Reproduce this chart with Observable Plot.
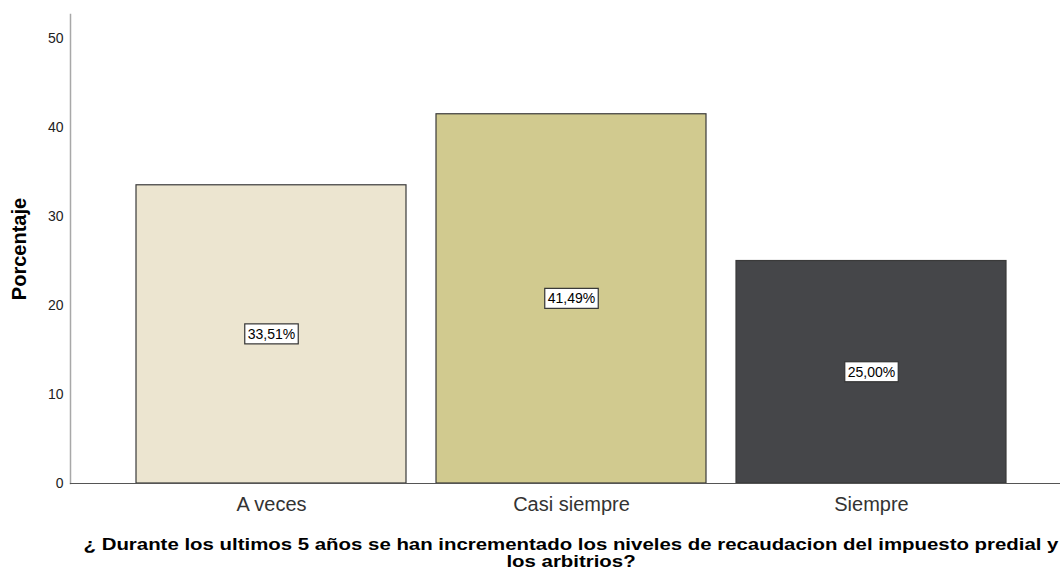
<!DOCTYPE html>
<html>
<head>
<meta charset="utf-8">
<script src="https://cdn.jsdelivr.net/npm/d3@7"></script>
<script src="https://cdn.jsdelivr.net/npm/@observablehq/plot@0.6"></script>
<style>
  html, body { margin: 0; padding: 0; background: #fff; overflow: hidden; width: 1060px; height: 573px; }
  #wrap { width: 1072px; }
  #title { width: 1002px; margin-left: 70px; text-align: center; font-family: "Liberation Sans", Arial, sans-serif;
           font-weight: bold; font-size: 17px; line-height: 17px; padding-top: 16px; white-space: nowrap; color: #000;
           transform: scaleX(1.2); transform-origin: 50% 0; }
</style>
</head>
<body>
<div id="wrap">
  <div id="chart"></div>
  <div id="title">¿ Durante los ultimos 5 años se han incrementado los niveles de recaudacion del impuesto predial y<br>los arbitrios?</div>
</div>
<script>
const categories = ["A veces", "Casi siempre", "Siempre"];
const percentages = [33.51, 41.49, 25.00];
const valueLabels = ["33,51%", "41,49%", "25,00%"];
const barColors = ["#ece5d0", "#d1ca8f", "#454649"];
const yTicks = [0, 10, 20, 30, 40, 50];

const data = categories.map((c, i) => ({category: c, value: percentages[i], label: valueLabels[i]}));

const chart = Plot.plot({
  width: 1072,
  height: 520,
  marginLeft: 70,
  marginRight: 0,
  marginTop: 14,
  marginBottom: 37,
  style: {fontFamily: "Liberation Sans, Arial, sans-serif", background: "#fff"},
  x: {domain: categories, paddingInner: 0.1, paddingOuter: 0.22, label: null},
  y: {domain: [0, 52.7], label: null},
  color: {domain: categories, range: barColors},
  marks: [
    Plot.barY(data, {x: "category", y: "value", fill: "category", stroke: "#3a3a3a", strokeWidth: 1.2}),
    Plot.frame({anchor: "left", stroke: "#a8a8a8", strokeWidth: 1.5}),
    Plot.frame({anchor: "bottom", stroke: "#555", strokeWidth: 1.2}),
    Plot.axisY({ticks: yTicks, tickSize: 0, tickPadding: 7, fontSize: 14, fill: "#222", label: null}),
    Plot.axisX({tickSize: 0, tickPadding: 13, fontSize: 20, fill: "#333", label: null}),
    Plot.text(["Porcentaje"], {frameAnchor: "left", textAnchor: "middle", rotate: -90, dx: -51, fontWeight: "bold", fontSize: 20, fill: "#000"}),
    Plot.text(data, {x: "category", y: d => d.value / 2, text: "label", fontSize: 14, fill: "#000", className: "vlabel"})
  ]
});
document.getElementById("chart").appendChild(chart);

// white boxes behind value labels
d3.select(chart).selectAll("g.vlabel text").each(function() {
  const b = this.getBBox();
  const rect = document.createElementNS("http://www.w3.org/2000/svg", "rect");
  rect.setAttribute("x", b.x - 3);
  rect.setAttribute("y", b.y - 2);
  rect.setAttribute("width", b.width + 6);
  rect.setAttribute("height", b.height + 4);
  rect.setAttribute("fill", "#fff");
  rect.setAttribute("stroke", "#333");
  rect.setAttribute("stroke-width", "1.2");
  const t = this.getAttribute("transform");
  if (t) rect.setAttribute("transform", t);
  this.parentNode.insertBefore(rect, this);
});
</script>
</body>
</html>
